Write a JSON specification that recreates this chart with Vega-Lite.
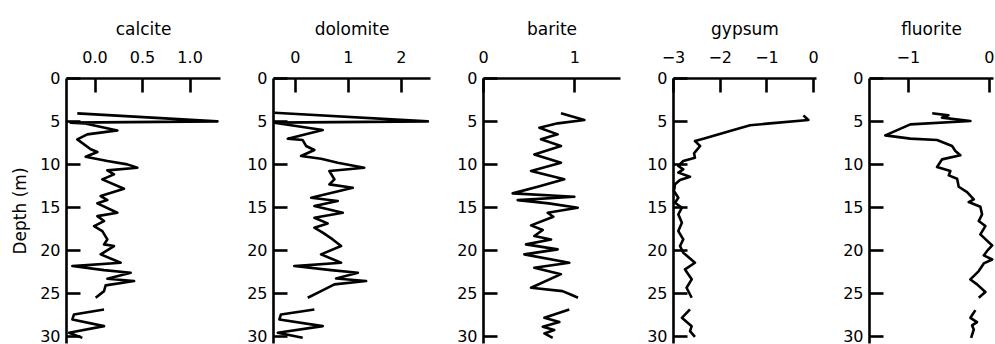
{
  "$schema": "https://vega.github.io/schema/vega-lite/v6.json",
  "background": "white",
  "padding": {"left": 11, "top": 20, "right": 0, "bottom": 0},
  "spacing": 53,
  "bounds": "flush",
  "config": {
    "view": {"stroke": null},
    "font": "DejaVu Sans",
    "line": {"color": "black", "strokeWidth": 2.6, "clip": true, "strokeJoin": "round"},
    "axis": {
      "grid": false,
      "ticks": true,
      "tickSize": -14,
      "tickColor": "black",
      "tickWidth": 2.6,
      "domainColor": "black",
      "domainWidth": 2.6,
      "labelFlush": false,
      "labelOverlap": false,
      "labelFont": "DejaVu Sans",
      "labelFontSize": 16,
      "labelColor": "black",
      "titleFont": "DejaVu Sans",
      "titleFontSize": 17,
      "titleFontWeight": "normal",
      "titleColor": "black"
    },
    "axisX": {"labelPadding": 27, "titlePadding": 11},
    "axisY": {"labelPadding": 20, "titlePadding": 10}
  },
  "datasets": {
    "calcite": [
      {"seg": 1, "depth": 4.11, "value": -0.181}, {"seg": 1, "depth": 5.04, "value": 1.293}, {"seg": 1, "depth": 5.19, "value": -0.251},
      {"seg": 1, "depth": 5.27, "value": -0.11}, {"seg": 1, "depth": 6.09, "value": 0.24}, {"seg": 1, "depth": 6.55, "value": -0.076},
      {"seg": 1, "depth": 7.13, "value": -0.181}, {"seg": 1, "depth": 8.29, "value": -0.04}, {"seg": 1, "depth": 8.6, "value": 0.03},
      {"seg": 1, "depth": 9.15, "value": -0.093}, {"seg": 1, "depth": 9.65, "value": 0.135}, {"seg": 1, "depth": 10.04, "value": 0.345},
      {"seg": 1, "depth": 10.43, "value": 0.45}, {"seg": 1, "depth": 10.74, "value": 0.135}, {"seg": 1, "depth": 11.2, "value": 0.205},
      {"seg": 1, "depth": 11.78, "value": 0.082}, {"seg": 1, "depth": 12.87, "value": 0.31}, {"seg": 1, "depth": 13.72, "value": 0.065},
      {"seg": 1, "depth": 14.19, "value": 0.135}, {"seg": 1, "depth": 14.57, "value": 0.03}, {"seg": 1, "depth": 15.66, "value": 0.24},
      {"seg": 1, "depth": 16.05, "value": 0.03}, {"seg": 1, "depth": 16.63, "value": 0.1}, {"seg": 1, "depth": 17.21, "value": -0.005},
      {"seg": 1, "depth": 17.79, "value": 0.082}, {"seg": 1, "depth": 18.76, "value": 0.135}, {"seg": 1, "depth": 19.34, "value": 0.1},
      {"seg": 1, "depth": 19.53, "value": 0.205}, {"seg": 1, "depth": 20.5, "value": 0.065}, {"seg": 1, "depth": 21.47, "value": 0.275},
      {"seg": 1, "depth": 21.86, "value": -0.233}, {"seg": 1, "depth": 22.33, "value": 0.1}, {"seg": 1, "depth": 22.64, "value": 0.38},
      {"seg": 1, "depth": 23.33, "value": 0.135}, {"seg": 1, "depth": 23.6, "value": 0.416}, {"seg": 1, "depth": 24.1, "value": 0.117},
      {"seg": 1, "depth": 24.77, "value": 0.1}, {"seg": 1, "depth": 25.54, "value": 0.012},
      {"seg": 2, "depth": 26.9, "value": 0.1}, {"seg": 2, "depth": 27.48, "value": -0.216}, {"seg": 2, "depth": 28.06, "value": -0.233},
      {"seg": 2, "depth": 28.84, "value": 0.1}, {"seg": 2, "depth": 29.6, "value": -0.268}, {"seg": 2, "depth": 30.2, "value": -0.128}
    ],
    "dolomite": [
      {"seg": 1, "depth": 4.03, "value": -0.384}, {"seg": 1, "depth": 5.04, "value": 2.51}, {"seg": 1, "depth": 5.19, "value": -0.384},
      {"seg": 1, "depth": 5.31, "value": -0.26}, {"seg": 1, "depth": 6.05, "value": 0.528}, {"seg": 1, "depth": 7.05, "value": -0.132},
      {"seg": 1, "depth": 7.21, "value": 0.15}, {"seg": 1, "depth": 7.9, "value": 0.213}, {"seg": 1, "depth": 8.37, "value": 0.37},
      {"seg": 1, "depth": 9.07, "value": 0.119}, {"seg": 1, "depth": 9.38, "value": 0.496}, {"seg": 1, "depth": 9.84, "value": 0.81},
      {"seg": 1, "depth": 10.43, "value": 1.31}, {"seg": 1, "depth": 10.81, "value": 0.653}, {"seg": 1, "depth": 11.78, "value": 0.748},
      {"seg": 1, "depth": 12.36, "value": 0.653}, {"seg": 1, "depth": 12.75, "value": 1.094}, {"seg": 1, "depth": 13.91, "value": 0.31},
      {"seg": 1, "depth": 14.3, "value": 0.81}, {"seg": 1, "depth": 14.88, "value": 0.37}, {"seg": 1, "depth": 15.66, "value": 0.906},
      {"seg": 1, "depth": 16.24, "value": 0.37}, {"seg": 1, "depth": 16.9, "value": 0.62}, {"seg": 1, "depth": 17.4, "value": 0.37},
      {"seg": 1, "depth": 17.98, "value": 0.528}, {"seg": 1, "depth": 18.76, "value": 0.716}, {"seg": 1, "depth": 19.53, "value": 0.874},
      {"seg": 1, "depth": 20.5, "value": 0.496}, {"seg": 1, "depth": 21.47, "value": 0.874}, {"seg": 1, "depth": 21.86, "value": -0.008},
      {"seg": 1, "depth": 22.33, "value": 0.685}, {"seg": 1, "depth": 22.64, "value": 1.19}, {"seg": 1, "depth": 23.3, "value": 0.78},
      {"seg": 1, "depth": 23.6, "value": 1.345}, {"seg": 1, "depth": 23.99, "value": 0.748}, {"seg": 1, "depth": 24.77, "value": 0.496},
      {"seg": 1, "depth": 25.54, "value": 0.245},
      {"seg": 2, "depth": 26.9, "value": 0.37}, {"seg": 2, "depth": 27.48, "value": -0.26}, {"seg": 2, "depth": 28.06, "value": -0.29},
      {"seg": 2, "depth": 28.84, "value": 0.528}, {"seg": 2, "depth": 29.6, "value": -0.32}, {"seg": 2, "depth": 30.2, "value": 0.15}
    ],
    "barite": [
      {"seg": 1, "depth": 4.11, "value": 0.854}, {"seg": 1, "depth": 4.88, "value": 1.11}, {"seg": 1, "depth": 5.27, "value": 0.818},
      {"seg": 1, "depth": 5.78, "value": 0.617}, {"seg": 1, "depth": 6.55, "value": 0.818}, {"seg": 1, "depth": 7.13, "value": 0.635},
      {"seg": 1, "depth": 7.9, "value": 0.854}, {"seg": 1, "depth": 8.88, "value": 0.562}, {"seg": 1, "depth": 9.84, "value": 0.854},
      {"seg": 1, "depth": 10.81, "value": 0.526}, {"seg": 1, "depth": 11.78, "value": 0.89}, {"seg": 1, "depth": 12.64, "value": 0.599},
      {"seg": 1, "depth": 13.41, "value": 0.325}, {"seg": 1, "depth": 13.8, "value": 1.0}, {"seg": 1, "depth": 14.19, "value": 0.38},
      {"seg": 1, "depth": 14.57, "value": 0.72}, {"seg": 1, "depth": 15.08, "value": 1.037}, {"seg": 1, "depth": 15.66, "value": 0.708},
      {"seg": 1, "depth": 16.12, "value": 0.77}, {"seg": 1, "depth": 17.13, "value": 0.526}, {"seg": 1, "depth": 17.67, "value": 0.654},
      {"seg": 1, "depth": 18.37, "value": 0.562}, {"seg": 1, "depth": 18.76, "value": 0.745}, {"seg": 1, "depth": 19.34, "value": 0.471},
      {"seg": 1, "depth": 19.92, "value": 0.818}, {"seg": 1, "depth": 20.5, "value": 0.453}, {"seg": 1, "depth": 21.47, "value": 0.945},
      {"seg": 1, "depth": 22.05, "value": 0.562}, {"seg": 1, "depth": 22.8, "value": 0.854}, {"seg": 1, "depth": 24.38, "value": 0.526},
      {"seg": 1, "depth": 24.77, "value": 0.87}, {"seg": 1, "depth": 25.16, "value": 0.96}, {"seg": 1, "depth": 25.54, "value": 1.04},
      {"seg": 2, "depth": 26.9, "value": 0.945}, {"seg": 2, "depth": 27.87, "value": 0.672}, {"seg": 2, "depth": 28.37, "value": 0.836},
      {"seg": 2, "depth": 28.91, "value": 0.654}, {"seg": 2, "depth": 29.3, "value": 0.78}, {"seg": 2, "depth": 29.69, "value": 0.672},
      {"seg": 2, "depth": 30.2, "value": 0.763}
    ],
    "gypsum": [
      {"seg": 1, "depth": 4.34, "value": -0.21}, {"seg": 1, "depth": 4.88, "value": -0.103}, {"seg": 1, "depth": 5.27, "value": -0.923},
      {"seg": 1, "depth": 5.5, "value": -1.35}, {"seg": 1, "depth": 6.16, "value": -1.78}, {"seg": 1, "depth": 7.05, "value": -2.35},
      {"seg": 1, "depth": 7.33, "value": -2.53}, {"seg": 1, "depth": 7.9, "value": -2.42}, {"seg": 1, "depth": 8.76, "value": -2.55},
      {"seg": 1, "depth": 9.26, "value": -2.53}, {"seg": 1, "depth": 9.65, "value": -2.78}, {"seg": 1, "depth": 10.23, "value": -2.886},
      {"seg": 1, "depth": 10.62, "value": -2.78}, {"seg": 1, "depth": 11.0, "value": -2.886}, {"seg": 1, "depth": 11.47, "value": -2.636},
      {"seg": 1, "depth": 11.86, "value": -2.85}, {"seg": 1, "depth": 12.36, "value": -2.957}, {"seg": 1, "depth": 13.14, "value": -2.98},
      {"seg": 1, "depth": 13.91, "value": -2.886}, {"seg": 1, "depth": 14.5, "value": -2.957}, {"seg": 1, "depth": 15.08, "value": -2.81},
      {"seg": 1, "depth": 15.85, "value": -2.886}, {"seg": 1, "depth": 16.82, "value": -2.81}, {"seg": 1, "depth": 17.79, "value": -2.886},
      {"seg": 1, "depth": 18.76, "value": -2.78}, {"seg": 1, "depth": 19.53, "value": -2.85}, {"seg": 1, "depth": 20.3, "value": -2.78},
      {"seg": 1, "depth": 21.47, "value": -2.53}, {"seg": 1, "depth": 22.25, "value": -2.743}, {"seg": 1, "depth": 23.4, "value": -2.6},
      {"seg": 1, "depth": 24.38, "value": -2.71}, {"seg": 1, "depth": 25.54, "value": -2.6},
      {"seg": 2, "depth": 26.9, "value": -2.636}, {"seg": 2, "depth": 27.87, "value": -2.81}, {"seg": 2, "depth": 28.84, "value": -2.6},
      {"seg": 2, "depth": 29.42, "value": -2.636}, {"seg": 2, "depth": 30.08, "value": -2.53}
    ],
    "fluorite": [
      {"seg": 1, "depth": 4.1, "value": -0.7}, {"seg": 1, "depth": 4.34, "value": -0.5}, {"seg": 1, "depth": 4.61, "value": -0.58},
      {"seg": 1, "depth": 5.0, "value": -0.229}, {"seg": 1, "depth": 5.39, "value": -0.97}, {"seg": 1, "depth": 6.67, "value": -1.279},
      {"seg": 1, "depth": 7.05, "value": -0.97}, {"seg": 1, "depth": 7.21, "value": -0.64}, {"seg": 1, "depth": 7.9, "value": -0.455},
      {"seg": 1, "depth": 8.49, "value": -0.414}, {"seg": 1, "depth": 8.99, "value": -0.353}, {"seg": 1, "depth": 9.46, "value": -0.579},
      {"seg": 1, "depth": 10.35, "value": -0.64}, {"seg": 1, "depth": 10.81, "value": -0.476}, {"seg": 1, "depth": 11.32, "value": -0.496},
      {"seg": 1, "depth": 11.71, "value": -0.393}, {"seg": 1, "depth": 12.64, "value": -0.373}, {"seg": 1, "depth": 13.26, "value": -0.27},
      {"seg": 1, "depth": 14.1, "value": -0.187}, {"seg": 1, "depth": 14.42, "value": -0.25}, {"seg": 1, "depth": 14.96, "value": -0.106},
      {"seg": 1, "depth": 15.85, "value": -0.085}, {"seg": 1, "depth": 16.63, "value": -0.126}, {"seg": 1, "depth": 17.21, "value": -0.044},
      {"seg": 1, "depth": 18.18, "value": -0.106}, {"seg": 1, "depth": 19.46, "value": 0.04}, {"seg": 1, "depth": 20.1, "value": -0.023},
      {"seg": 1, "depth": 20.62, "value": -0.064}, {"seg": 1, "depth": 21.09, "value": 0.04}, {"seg": 1, "depth": 21.55, "value": -0.064},
      {"seg": 1, "depth": 22.44, "value": -0.126}, {"seg": 1, "depth": 23.41, "value": -0.229}, {"seg": 1, "depth": 23.99, "value": -0.147},
      {"seg": 1, "depth": 24.88, "value": -0.044}, {"seg": 1, "depth": 25.54, "value": -0.126},
      {"seg": 2, "depth": 26.98, "value": -0.167}, {"seg": 2, "depth": 27.87, "value": -0.229}, {"seg": 2, "depth": 28.37, "value": -0.147},
      {"seg": 2, "depth": 28.76, "value": -0.208}, {"seg": 2, "depth": 29.22, "value": -0.187}, {"seg": 2, "depth": 30.2, "value": -0.22}
    ]
  },
  "hconcat": [
    {
      "width": 154, "height": 265,
      "data": {"name": "calcite"},
      "mark": "line",
      "encoding": {
        "x": {"field": "value", "type": "quantitative", "scale": {"domain": [-0.3, 1.32], "nice": false, "zero": false},
              "axis": {"orient": "top", "title": "calcite", "values": [0, 0.5, 1], "format": ".1f"}},
        "y": {"field": "depth", "type": "quantitative", "scale": {"domain": [0, 30.8], "reverse": true, "nice": false, "zero": false},
              "axis": {"orient": "left", "values": [0, 5, 10, 15, 20, 25, 30], "title": "Depth (m)"}},
        "detail": {"field": "seg"},
        "order": {"field": "depth"}
      }
    },
    {
      "width": 157, "height": 265,
      "data": {"name": "dolomite"},
      "mark": "line",
      "encoding": {
        "x": {"field": "value", "type": "quantitative", "scale": {"domain": [-0.41, 2.55], "nice": false, "zero": false},
              "axis": {"orient": "top", "title": "dolomite", "values": [0, 1, 2], "format": "d"}},
        "y": {"field": "depth", "type": "quantitative", "scale": {"domain": [0, 30.8], "reverse": true, "nice": false, "zero": false},
              "axis": {"orient": "left", "values": [0, 5, 10, 15, 20, 25, 30], "title": null}},
        "detail": {"field": "seg"},
        "order": {"field": "depth"}
      }
    },
    {
      "width": 137, "height": 265,
      "data": {"name": "barite"},
      "mark": "line",
      "encoding": {
        "x": {"field": "value", "type": "quantitative", "scale": {"domain": [0, 1.5], "nice": false, "zero": false},
              "axis": {"orient": "top", "title": "barite", "values": [0, 1], "format": "d"}},
        "y": {"field": "depth", "type": "quantitative", "scale": {"domain": [0, 30.8], "reverse": true, "nice": false, "zero": false},
              "axis": {"orient": "left", "values": [0, 5, 10, 15, 20, 25, 30], "title": null}},
        "detail": {"field": "seg"},
        "order": {"field": "depth"}
      }
    },
    {
      "width": 143, "height": 265,
      "data": {"name": "gypsum"},
      "mark": "line",
      "encoding": {
        "x": {"field": "value", "type": "quantitative", "scale": {"domain": [-3, 0.06], "nice": false, "zero": false},
              "axis": {"orient": "top", "title": "gypsum", "values": [-3, -2, -1, 0], "format": "d"}},
        "y": {"field": "depth", "type": "quantitative", "scale": {"domain": [0, 30.8], "reverse": true, "nice": false, "zero": false},
              "axis": {"orient": "left", "values": [0, 5, 10, 15, 20, 25, 30], "title": null}},
        "detail": {"field": "seg"},
        "order": {"field": "depth"}
      }
    },
    {
      "width": 124, "height": 265,
      "data": {"name": "fluorite"},
      "mark": "line",
      "encoding": {
        "x": {"field": "value", "type": "quantitative", "scale": {"domain": [-1.48, 0.05], "nice": false, "zero": false},
              "axis": {"orient": "top", "title": "fluorite", "values": [-1, 0], "format": "d"}},
        "y": {"field": "depth", "type": "quantitative", "scale": {"domain": [0, 30.8], "reverse": true, "nice": false, "zero": false},
              "axis": {"orient": "left", "values": [0, 5, 10, 15, 20, 25, 30], "title": null}},
        "detail": {"field": "seg"},
        "order": {"field": "depth"}
      }
    }
  ]
}
